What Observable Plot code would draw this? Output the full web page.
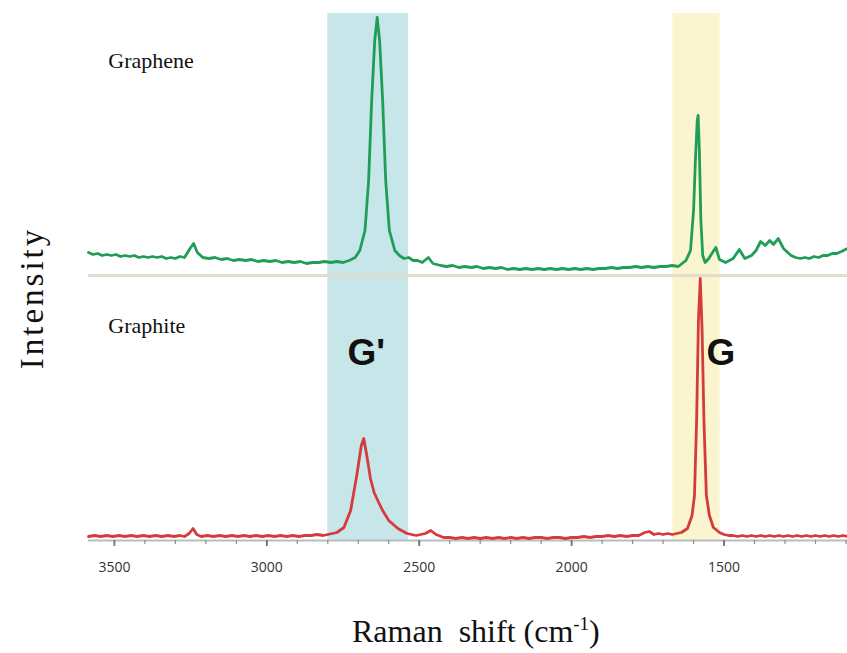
<!DOCTYPE html>
<html>
<head>
<meta charset="utf-8">
<script src="https://cdn.jsdelivr.net/npm/d3@7"></script>
<script src="https://cdn.jsdelivr.net/npm/@observablehq/plot@0.6"></script>
<style>
  body { margin: 0; background: #fff; }
  #wrap { position: relative; width: 847px; height: 653px; }
  #xlabel { position: absolute; left: 352px; top: 604px; font-family: "Liberation Serif", "Times New Roman", serif; font-size: 32px; color: #111; white-space: nowrap; line-height: 40px; }
  #xlabel sup { font-size: 19px; }
  #ylabel { position: absolute; left: 32px; top: 298px; transform: translate(-50%, -50%) rotate(-90deg); font-family: "Liberation Serif", "Times New Roman", serif; font-size: 33px; letter-spacing: 3px; color: #111; white-space: nowrap; line-height: 36px; }
</style>
</head>
<body>
<div id="wrap"><div id="chart"></div><div id="ylabel">Intensity</div><div id="xlabel">Raman&nbsp; shift (cm<sup>-1</sup>)</div></div>
<script>
// [Raman shift (cm^-1), intensity (arbitrary units)]
const graphiteData = [
  [3585,4],[3565,5],[3545,4],[3525,5],[3505,4],[3485,5],[3465,4],[3445,5],[3425,4],[3405,5],[3385,4],[3365,5],[3345,4],[3325,5],[3305,4],[3285,5],[3270,4],[3255,7],[3242,12],[3230,6],[3215,4],
  [3195,5],[3175,4],[3155,5],[3135,4],[3115,5],[3095,4],[3075,5],[3055,4],[3035,5],[3015,4],[2995,5],[2975,4],[2955,5],[2935,4],[2915,5],[2895,4],[2875,5],[2855,5],[2835,6],[2815,5],[2800,6],
  [2770,8],[2747,13],[2725,30],[2705,65],[2690,95],[2682,102],[2672,85],[2660,62],[2648,48],[2636,40],[2620,30],[2600,20],[2570,12],[2540,7],[2510,5],[2480,7],[2462,10],[2445,6],[2420,3],
  [2400,3],[2380,2],[2360,3],[2340,2],[2320,3],[2300,2],[2280,3],[2260,2],[2240,3],[2220,2],[2200,3],[2180,2],[2160,3],[2140,2],[2120,3],[2100,3],[2080,2],[2060,3],[2040,3],[2020,2],[2000,3],
  [1980,3],[1960,4],[1940,3],[1920,4],[1900,4],[1880,5],[1860,4],[1840,5],[1820,4],[1800,5],[1780,5],[1760,8],[1745,9],[1730,6],[1715,7],[1700,6],[1685,7],[1670,6],[1655,7],[1640,8],
  [1620,12],[1605,25],[1597,45],[1590,120],[1584,220],[1578,262],[1572,210],[1566,120],[1558,45],[1548,25],[1535,13],[1515,8],
  [1500,6],[1485,5],[1470,5],[1455,4],[1440,5],[1425,4],[1410,5],[1395,4],[1380,5],[1365,4],[1350,5],[1335,4],[1320,5],[1305,4],[1290,5],[1275,4],[1260,5],[1245,4],[1230,5],[1215,4],[1200,5],[1185,4],[1170,5],[1155,4],[1140,5],[1125,4],[1110,5],[1095,4]
];
const grapheneData = [
  [3585,288],[3570,286],[3555,287],[3540,285],[3525,286],[3510,285],[3495,286],[3480,284],[3465,285],[3450,284],[3435,285],[3420,283],[3405,284],[3390,283],[3375,284],[3360,283],[3345,284],[3330,282],[3315,283],[3300,282],[3285,284],[3270,283],
  [3252,292],[3240,297],[3228,288],
  [3210,283],[3190,282],[3170,283],[3150,281],[3130,282],[3110,280],[3090,281],[3070,280],[3050,281],[3030,279],[3010,280],[2990,279],[2970,280],[2950,278],[2930,279],[2910,278],[2890,279],[2870,277],[2850,278],[2830,278],[2810,279],[2790,278],[2770,279],[2750,278],[2730,280],
  [2710,283],[2695,290],[2678,310],[2666,360],[2656,440],[2646,500],[2638,523],[2630,500],[2620,440],[2610,360],[2598,310],[2580,290],[2565,285],[2550,282],[2535,283],[2520,280],[2505,280],[2490,278],[2470,283],[2455,277],
  [2430,275],[2410,274],[2390,275],[2370,273],[2350,274],[2330,273],[2310,274],[2290,272],[2270,273],[2250,272],[2230,273],[2210,271],[2190,272],[2170,271],[2150,272],[2130,271],[2110,272],[2090,271],[2070,272],[2050,271],[2030,272],[2010,271],
  [1990,272],[1970,271],[1950,272],[1930,271],[1910,272],[1890,272],[1870,273],[1850,272],[1830,273],[1810,273],[1790,274],[1770,273],[1750,274],[1730,273],[1710,274],[1690,274],[1670,275],[1650,274],
  [1625,280],[1610,290],[1600,330],[1594,380],[1588,420],[1585,425],[1581,390],[1576,320],[1570,285],[1562,278],[1550,282],[1540,287],[1527,293],[1515,281],[1495,278],[1470,282],[1450,291],[1432,282],[1410,285],[1395,290],[1380,299],[1365,295],[1350,300],[1338,296],[1322,302],[1305,292],[1280,285],[1265,283],
  [1250,282],[1235,283],[1220,282],[1205,284],[1190,283],[1175,285],[1160,285],[1145,287],[1130,287],[1115,289],[1095,292]
];

const separatorLevel = 265;
const bandStart = [2800, 1668];
const bandEnd = [2535, 1513];
const bandColor = ["#c6e6ea", "#fbf5cf"];
const minorTicks = d3.range(1100, 3600, 100);
const majorTicks = [3500, 3000, 2500, 2000, 1500];

const bandNames = ["G'", "G"];
const bandLabelShift = [2674, 1510];
const bandLabelLevel = 187;

const sampleNames = ["Graphene", "Graphite"];
const sampleLabelShift = [3520, 3520];
const sampleLabelLevel = [480, 215];

const graphite = graphiteData.map(([x, y]) => ({x, y}));
const graphene = grapheneData.map(([x, y]) => ({x, y}));
const bands = bandStart.map((s, i) => ({x1: s, x2: bandEnd[i], fill: bandColor[i]}));
const bandLabels = bandNames.map((t, i) => ({t, x: bandLabelShift[i], y: bandLabelLevel}));
const sampleLabels = sampleNames.map((t, i) => ({t, x: sampleLabelShift[i], y: sampleLabelLevel[i]}));

const plot = Plot.plot({
  width: 847,
  height: 595,
  marginTop: 13,
  marginBottom: 55,
  marginLeft: 88,
  marginRight: 0,
  style: {background: "white", fontFamily: "'Open Sans', sans-serif"},
  x: {domain: [3585, 1095], axis: null},
  y: {domain: [0, 527], axis: null},
  marks: [
    Plot.rect(bands, {x1: "x1", x2: "x2", y1: 0, y2: 527, fill: d => d.fill}),
    Plot.ruleY([separatorLevel], {stroke: "#e4dccb", strokeWidth: 3}),
    Plot.ruleY([0], {stroke: "#b9bdbe", strokeWidth: 2}),
    Plot.axisX({ticks: minorTicks, tickSize: 4, tickFormat: () => "", stroke: "#8a8e8f", strokeWidth: 1.2}),
    Plot.axisX({ticks: majorTicks, tickSize: 6, tickPadding: 16, tickFormat: d => String(d), stroke: "#6f7374", strokeWidth: 1.8, fontSize: 14, fill: "#333", fontFamily: "'Open Sans', sans-serif"}),
    Plot.line(graphene, {x: "x", y: "y", stroke: "#1f9e58", strokeWidth: 2.8, strokeLinejoin: "round"}),
    Plot.line(graphite, {x: "x", y: "y", stroke: "#d63b3c", strokeWidth: 2.8, strokeLinejoin: "round"}),
    Plot.text(sampleLabels, {x: "x", y: "y", text: "t", textAnchor: "start", fontSize: 22, fill: "#111", fontFamily: "'Liberation Serif', serif"}),
    Plot.text(bandLabels, {x: "x", y: "y", text: "t", fontSize: 37, fontWeight: "bold", fill: "#111", fontFamily: "'Liberation Sans', Arial, sans-serif"})
  ]
});
document.getElementById("chart").appendChild(plot);
</script>
</body>
</html>
